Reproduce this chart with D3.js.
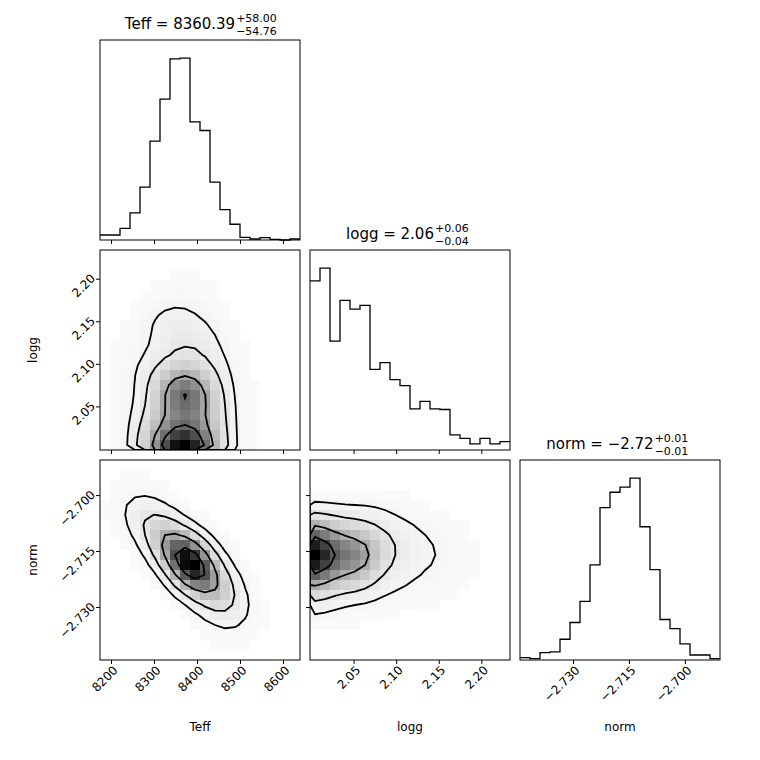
<!DOCTYPE html>
<html><head><meta charset="utf-8">
<script src="https://cdn.jsdelivr.net/npm/d3@7"></script>
<style>body{margin:0;background:#fff}text{font-family:"DejaVu Sans",sans-serif}</style>
</head><body><svg id="c" width="760" height="760"></svg>
<script>
// parameter ranges and labels
var names = ['Teff', 'logg', 'norm'];
var ranges = [[8174.4, 8639.5], [1.9988, 2.2337], [-2.7442, -2.6906]];
var ticks = [[8200, 8300, 8400, 8500, 8600], [2.05, 2.10, 2.15, 2.20], [-2.730, -2.715, -2.700]];
var tickFmt = [d3.format('d'), d3.format('.2f'), function(v){ return d3.format('.3f')(v).replace('-', '\u2212'); }];
var titles = [['Teff = 8360.39', '+58.00', '\u221254.76'], ['logg = 2.06', '+0.06', '\u22120.04'], ['norm = \u22122.72', '+0.01', '\u22120.01']];

// 1D histogram counts (20 bins each)
var histTeff = [15, 15, 35, 81, 158, 295, 421, 541, 543, 353, 327, 173, 91, 47, 8, 3, 7, 2, 0, 3];
var histLogg = [505, 543, 325, 447, 421, 432, 241, 261, 210, 192, 123, 145, 123, 121, 45, 35, 18, 35, 18, 25];
var histNorm = [7, 4, 22, 24, 62, 112, 175, 284, 455, 501, 516, 543, 398, 270, 121, 94, 48, 15, 15, 4];
var hists = [histTeff, histLogg, histNorm];

// coarse 2D densities (10x10, rows from top = high y value)
var denTeffLogg = [
 [0,0,0,0,0,0,0,0,0,0],
 [0,0,0,0,0.4,0,0,0,0,0],
 [0,0,0.3,1,1,0.4,0,0,0,0],
 [0,0,1.5,2,1.5,1,0,0,0,0],
 [0,0.3,1,2,2.5,2,0.3,0,0,0],
 [0,1,1.5,2,2,2,1,0,0,0],
 [0,1,2,5,6,3,1.2,0,0,0],
 [0,0.8,2,6,8,4,1.5,0,0,0],
 [0,1,3,4,4,4,1.5,0,0,0],
 [0,1,4,8,9,5,1.5,0,0,0]];
var denTeffNorm = [
 [0,0,0,0,0,0,0,0,0,0],
 [0,0.4,0.2,0,0,0,0,0,0,0],
 [0,1.2,1.5,0.3,0,0,0,0,0,0],
 [0,0.2,2.5,3,0.3,0,0,0,0,0],
 [0,0,0.5,5,6,0.5,0,0,0,0],
 [0,0,0,1,8,4,0.3,0,0,0],
 [0,0,0,0,1.5,4,2,0,0,0],
 [0,0,0,0,0,1,2,0.4,0,0],
 [0,0,0,0,0,0.2,0.5,0.3,0,0],
 [0,0,0,0,0,0,0,0,0,0]];
var denLoggNorm = [
 [0,0,0,0,0,0,0,0,0,0],
 [0,0,0,0,0,0,0,0,0,0],
 [1,1,1,1,0.4,0.2,0,0,0,0],
 [5,3,3,2,1.5,1,0.6,0.2,0,0],
 [8,5,6,3,2,1,1,0.6,0,0],
 [7,4,5,2,1.5,1,0.8,0.6,0,0],
 [3,2,2,1,1,0.4,0.4,0,0,0],
 [1,0.3,0.3,0.3,0,0,0,0,0,0],
 [0,0,0,0,0,0,0,0,0,0],
 [0,0,0,0,0,0,0,0,0,0]];
var dens = {'1,0': denTeffLogg, '2,0': denTeffNorm, '2,1': denLoggNorm};

var svg = d3.select('#c');
var colX = [100, 310, 520], rowY = [40, 250, 460], S = 200;
var sx = ranges.map(function(r, i){ return d3.scaleLinear().domain(r).range([colX[i], colX[i] + S]); });
var sy = ranges.map(function(r, i){ return d3.scaleLinear().domain(r).range([rowY[i] + S, rowY[i]]); });

function frame(x, y) {
	svg.append('rect').attr('x', x).attr('y', y).attr('width', S).attr('height', S)
		.attr('fill', 'none').attr('stroke', '#000').attr('stroke-width', 1);
}

function xAxis(row, col, labels) {
	var ax = d3.axisBottom(sx[col]).tickValues(ticks[col]).tickSize(4).tickSizeOuter(0)
		.tickFormat(labels ? tickFmt[col] : '');
	var g = svg.append('g').attr('transform', 'translate(0,' + (rowY[row] + S) + ')').call(ax);
	g.select('.domain').remove();
	g.selectAll('.tick text').attr('font-size', 12).attr('text-anchor', 'end')
		.attr('transform', 'translate(4,8) rotate(-45)').attr('x', 0).attr('y', 0).attr('dy', '0.35em');
}

function yAxis(row, col, labels) {
	var ax = d3.axisLeft(sy[row]).tickValues(ticks[row]).tickSize(4).tickSizeOuter(0)
		.tickFormat(labels ? tickFmt[row] : '');
	var g = svg.append('g').attr('transform', 'translate(' + colX[col] + ',0)').call(ax);
	g.select('.domain').remove();
	g.selectAll('.tick text').attr('font-size', 12).attr('text-anchor', 'end')
		.attr('transform', 'translate(-7,-3) rotate(-45)').attr('x', 0).attr('y', 0).attr('dy', '0.35em');
}

function drawHist(i) {
	var h = hists[i], r = ranges[i], n = h.length, w = (r[1] - r[0]) / n;
	var y = d3.scaleLinear().domain([0, 1.1 * d3.max(h)]).range([rowY[i] + S, rowY[i]]);
	var pts = [];
	h.forEach(function(c, k) { pts.push([r[0] + k * w, c]); pts.push([r[0] + (k + 1) * w, c]); });
	svg.append('path').attr('d', d3.line().x(function(d){ return sx[i](d[0]); }).y(function(d){ return y(d[1]); })(pts))
		.attr('fill', 'none').attr('stroke', '#000').attr('stroke-width', 1.3);
	frame(colX[i], rowY[i]);
	var t = svg.append('text').attr('x', colX[i] + S / 2 - 20).attr('y', rowY[i] - 11).attr('font-size', 15).attr('text-anchor', 'middle');
	t.text(titles[i][0]);
	var tw = t.node().getComputedTextLength();
	var tx = colX[i] + S / 2 - 20 + tw / 2 + 1;
	svg.append('text').attr('x', tx).attr('y', rowY[i] - 18).attr('font-size', 11).text(titles[i][1]);
	svg.append('text').attr('x', tx).attr('y', rowY[i] - 5).attr('font-size', 11).text(titles[i][2]);
}

function drawDensity(row, col) {
	var d = dens[row + ',' + col], N = 20, grid = new Array(N * N);
	for (var j = 0; j < N; j++) for (var i = 0; i < N; i++) grid[j * N + i] = d[Math.floor(j / 2)][Math.floor(i / 2)];
	d3.blur2({data: grid, width: N, height: N}, 0.6);
	var mx = d3.max(grid), cell = S / N;
	var g = svg.append('g').attr('transform', 'translate(' + colX[col] + ',' + rowY[row] + ')');
	var cells = [];
	grid.forEach(function(v, k) { cells.push({i: k % N, j: Math.floor(k / N), v: v}); });
	g.selectAll('rect.cell').data(cells.filter(function(c){ return c.v > 0.02 * mx; })).enter().append('rect')
		.attr('x', function(c){ return c.i * cell; }).attr('y', function(c){ return c.j * cell; })
		.attr('width', cell + 0.3).attr('height', cell + 0.3)
		.attr('fill', function(c){ var t = Math.pow(c.v / mx, 1.6); return d3.interpolateGreys(0.04 + 0.96 * t); });
	// contour levels at 0.5,1,1.5,2 sigma
	var sorted = grid.slice().sort(function(a, b){ return b - a; }), tot = d3.sum(sorted);
	var fracs = [0.118, 0.393, 0.675, 0.865], levels = [];
	fracs.forEach(function(f) {
		var acc = 0;
		for (var k = 0; k < sorted.length; k++) { acc += sorted[k]; if (acc >= f * tot) { levels.push(sorted[k]); break; } }
	});
	var cs = d3.contours().size([N, N]).thresholds(levels)(grid);
	var path = d3.geoPath(d3.geoTransform({point: function(x, y){ this.stream.point(x * cell, y * cell); }}));
	var clip = 'clip' + row + col;
	g.append('clipPath').attr('id', clip).append('rect').attr('width', S).attr('height', S);
	g.append('g').attr('clip-path', 'url(#' + clip + ')').selectAll('path').data(cs).enter().append('path').attr('d', path)
		.attr('fill', 'none').attr('stroke', '#000').attr('stroke-width', 1.8).attr('stroke-linejoin', 'miter');
	frame(colX[col], rowY[row]);
}

[0, 1, 2].forEach(drawHist);
drawDensity(1, 0); drawDensity(2, 0); drawDensity(2, 1);

xAxis(0, 0, false); xAxis(1, 0, false); xAxis(1, 1, false);
xAxis(2, 0, true); xAxis(2, 1, true); xAxis(2, 2, true);
yAxis(1, 0, true); yAxis(2, 0, true); yAxis(2, 1, false);

names.forEach(function(n, i) {
	svg.append('text').attr('x', colX[i] + S / 2).attr('y', 731).attr('font-size', 12).attr('text-anchor', 'middle').text(n);
});
[1, 2].forEach(function(r) {
	svg.append('text').attr('transform', 'translate(37,' + (rowY[r] + S / 2) + ') rotate(-90)')
		.attr('font-size', 12).attr('text-anchor', 'middle').text(names[r]);
});
</script></body></html>
